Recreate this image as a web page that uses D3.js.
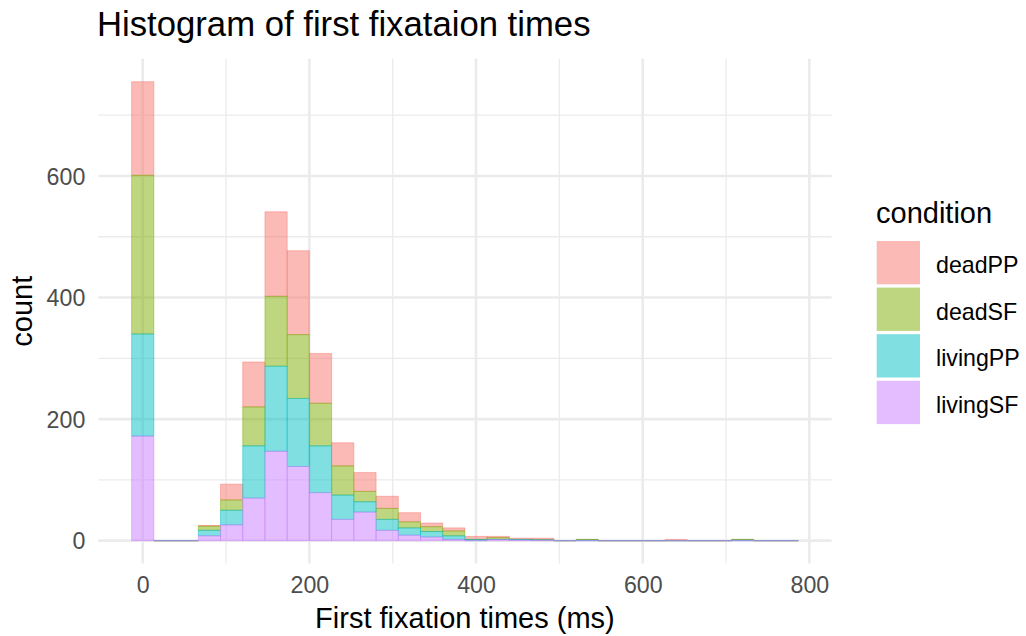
<!DOCTYPE html>
<html>
<head>
<meta charset="utf-8">
<script src="https://cdn.jsdelivr.net/npm/d3@7"></script>
<style>
  html, body { margin: 0; padding: 0; background: #fff; }
  svg { display: block; font-family: "Liberation Sans", Arial, Helvetica, sans-serif; }
</style>
</head>
<body>
<svg id="chart" width="1026" height="636"></svg>
<script>
// ---- data ----
const binCenters = [0, 26.67, 53.33, 80, 106.67, 133.33, 160, 186.67, 213.33, 240,
  266.67, 293.33, 320, 346.67, 373.33, 400, 426.67, 453.33, 480, 506.67,
  533.33, 560, 586.67, 613.33, 640, 666.67, 693.33, 720, 746.67, 773.33];
const conditions = ["deadPP", "deadSF", "livingPP", "livingSF"];
const deadPP   = [154, 0, 0, 1, 26, 74, 139, 138, 82, 38, 31, 20, 15, 6, 5, 5, 2, 2, 2, 0, 0, 0, 0, 0, 2, 0, 0, 0, 0, 0];
const deadSF   = [261, 0, 0, 7, 17, 64, 115, 105, 70, 48, 17, 18, 10, 8, 8, 0, 3, 0, 1, 0, 1, 0, 0, 0, 0, 0, 0, 1, 0, 0];
const livingPP = [168, 0, 0, 9, 24, 86, 140, 112, 77, 40, 17, 18, 12, 9, 6, 2, 0, 1, 0, 0, 1, 0, 0, 0, 0, 0, 0, 1, 0, 0];
const livingSF = [172, 0, 0, 8, 26, 70, 147, 122, 79, 35, 47, 17, 9, 6, 2, 0, 2, 1, 1, 0, 0, 0, 0, 0, 0, 0, 0, 0, 0, 0];
const xTicks = [0, 200, 400, 600, 800];
const xMinor = [100, 300, 500, 700];
const yTicks = [0, 200, 400, 600];
const yMinor = [100, 300, 500, 700];
const colors = ["#F8766D", "#7CAE00", "#00BFC4", "#C77CFF"];
const titleText = "Histogram of first fixataion times";
const xTitle = "First fixation times (ms)";
const yTitle = "count";
const legendTitle = "condition";

// ---- build ----
const seriesByName = { deadPP, deadSF, livingPP, livingSF };
const table = binCenters.map((c, i) => {
  const row = { center: c };
  conditions.forEach(k => row[k] = seriesByName[k][i]);
  return row;
});
// stack: livingSF at bottom ... deadPP on top
const stackOrder = ["livingSF", "livingPP", "deadSF", "deadPP"];
const stacked = d3.stack().keys(stackOrder)(table);

const n = binCenters.length;
const bw = (binCenters[n - 1] - binCenters[0]) / (n - 1);
const xLo = binCenters[0] - bw / 2, xHi = binCenters[n - 1] + bw / 2;
const xPad = (xHi - xLo) * 0.05;
const yMax = d3.max(table, d => conditions.reduce((s, k) => s + d[k], 0));
const yPad = yMax * 0.05;

const panel = { left: 98.3, right: 831.6, top: 58.8, bottom: 563.6 };
const x = d3.scaleLinear().domain([xLo - xPad, xHi + xPad]).range([panel.left, panel.right]);
const y = d3.scaleLinear().domain([-yPad, yMax + yPad]).range([panel.bottom, panel.top]);
const color = d3.scaleOrdinal().domain(conditions).range(colors);

const svg = d3.select("#chart");

// grid
const grid = svg.append("g");
grid.selectAll(".xminor").data(xMinor).join("line")
  .attr("x1", d => x(d)).attr("x2", d => x(d))
  .attr("y1", panel.top).attr("y2", panel.bottom)
  .attr("stroke", "#EBEBEB").attr("stroke-width", 1.3);
grid.selectAll(".yminor").data(yMinor.filter(v => y(v) > panel.top)).join("line")
  .attr("x1", panel.left).attr("x2", panel.right)
  .attr("y1", d => y(d)).attr("y2", d => y(d))
  .attr("stroke", "#EBEBEB").attr("stroke-width", 1.3);
grid.selectAll(".xmajor").data(xTicks).join("line")
  .attr("x1", d => x(d)).attr("x2", d => x(d))
  .attr("y1", panel.top).attr("y2", panel.bottom)
  .attr("stroke", "#EBEBEB").attr("stroke-width", 2.6);
grid.selectAll(".ymajor").data(yTicks).join("line")
  .attr("x1", panel.left).attr("x2", panel.right)
  .attr("y1", d => y(d)).attr("y2", d => y(d))
  .attr("stroke", "#EBEBEB").attr("stroke-width", 2.6);

// bars (draw deadPP first like ggplot group order)
const drawOrder = ["deadPP", "deadSF", "livingPP", "livingSF"];
drawOrder.forEach(key => {
  const layer = stacked.find(s => s.key === key);
  svg.append("g").selectAll("path").data(layer).join("path")
    .attr("d", d => {
      const x0 = x(d.data.center - bw / 2), x1 = x(d.data.center + bw / 2);
      const y0 = y(d[0]), y1 = y(d[1]);
      return `M${x0},${y0}H${x1}V${y1}H${x0}Z`;
    })
    .attr("fill", color(key)).attr("fill-opacity", 0.5)
    .attr("stroke", color(key)).attr("stroke-opacity", 0.5).attr("stroke-width", 0.9);
});

// axes labels
const xAxis = d3.axisBottom(x).tickValues(xTicks).tickSize(0).tickPadding(0);
const gx = svg.append("g").attr("transform", `translate(0,${panel.bottom})`).call(xAxis);
gx.select(".domain").remove();
gx.selectAll("text").attr("dy", null).attr("y", 29.5)
  .attr("font-size", 23.2).attr("fill", "#4D4D4D")
  .attr("font-family", "Liberation Sans, Arial, sans-serif");

const yAxis = d3.axisLeft(y).tickValues(yTicks).tickSize(0).tickPadding(0);
const gy = svg.append("g").attr("transform", `translate(${panel.left},0)`).call(yAxis);
gy.select(".domain").remove();
gy.selectAll("text").attr("dy", "0.35em").attr("x", -13)
  .attr("font-size", 23.2).attr("fill", "#4D4D4D")
  .attr("font-family", "Liberation Sans, Arial, sans-serif");

// titles
svg.append("text").attr("x", 97).attr("y", 36).attr("font-size", 34.7).attr("fill", "#000")
  .text(titleText);
svg.append("text").attr("x", (panel.left + panel.right) / 2).attr("y", 628)
  .attr("text-anchor", "middle").attr("font-size", 29).attr("fill", "#000").text(xTitle);
svg.append("text").attr("transform", `translate(31.5,${(panel.top + panel.bottom) / 2}) rotate(-90)`)
  .attr("text-anchor", "middle").attr("font-size", 29).attr("fill", "#000").text(yTitle);

// legend
const lg = svg.append("g");
lg.append("text").attr("x", 876).attr("y", 222.5).attr("font-size", 29).attr("fill", "#000").text(legendTitle);
const keyTop = 241, keyPitch = 46.6, keySize = 43.3;
conditions.forEach((k, i) => {
  const ky = keyTop + i * keyPitch;
  lg.append("rect").attr("x", 876.7).attr("y", ky).attr("width", keySize).attr("height", keySize)
    .attr("fill", color(k)).attr("fill-opacity", 0.5);
  lg.append("text").attr("x", 936).attr("y", ky + keySize / 2 + 10.6)
    .attr("font-size", 23.2).attr("fill", "#000").text(k);
});
</script>
</body>
</html>
